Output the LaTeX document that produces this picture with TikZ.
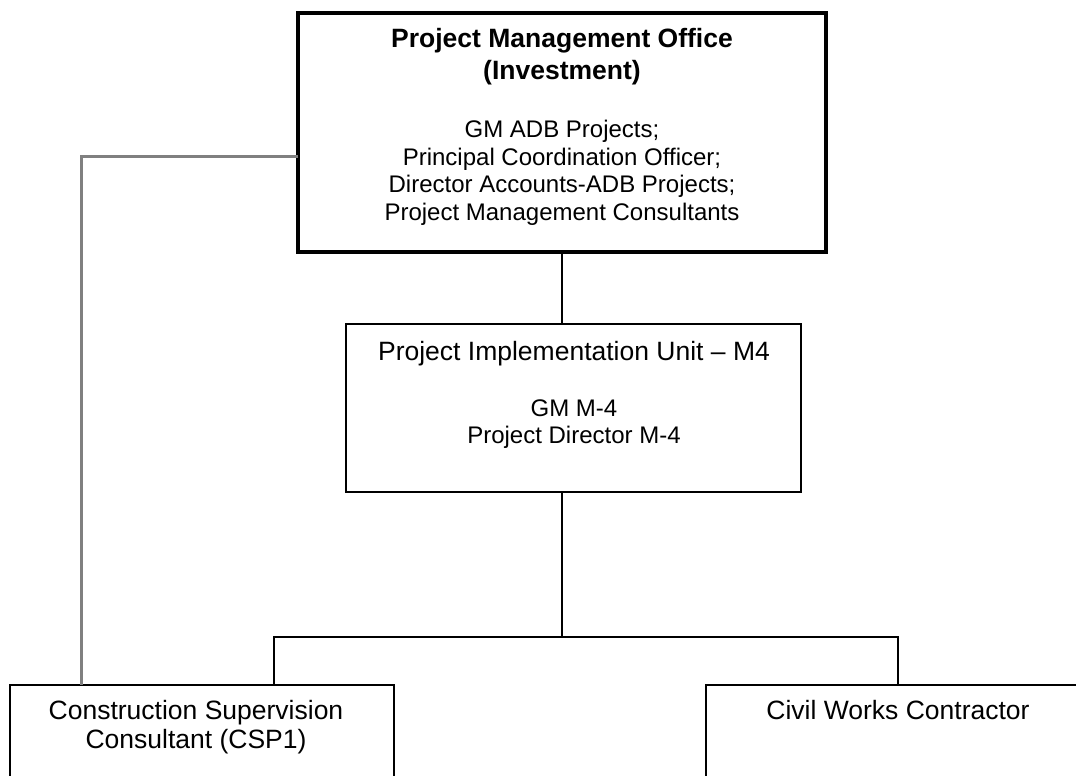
\documentclass[tikz,border=0pt]{standalone}
\usepackage{fontspec}
\setmainfont{Liberation Sans}
\definecolor{lgray}{RGB}{128,128,128}
\begin{document}
\begin{tikzpicture}[x=1pt,y=-1pt,
  box/.style={draw=black, line width=2pt, rectangle, inner sep=0pt, outer sep=0pt},
  thickbox/.style={box, line width=4pt},
  link/.style={draw=black, line width=2pt},
  glink/.style={draw=lgray, line width=3pt},
  head/.style={font=\fontsize{26.5}{30}\selectfont, inner sep=0pt, anchor=base},
  headb/.style={font=\fontsize{26.5}{30}\selectfont\bfseries, inner sep=0pt, anchor=base},
  sub/.style={font=\fontsize{24}{28}\selectfont, inner sep=0pt, anchor=base},
]
\useasboundingbox (0,0) rectangle (1076,776);
\clip (0,0) rectangle (1076,776);
\fill[white] (0,0) rectangle (1076,776);

% boxes
\node[thickbox, minimum width=528pt, minimum height=239pt] (pmo) at (562,132.5) {};
\node[box, minimum width=455pt, minimum height=168pt] (piu) at (573.5,408) {};
\node[box, minimum width=384pt, minimum height=115pt] (csc) at (202,742.5) {};
\node[box, minimum width=384pt, minimum height=115pt] (cwc) at (898,742.5) {};

% texts
\node[headb] (pmo1) at (562,48) {Project Management Office};
\node[headb] (pmo2) at (562,79.5) {(Investment)};
\node[sub] (pmo3) at (562,137) {GM ADB Projects;};
\node[sub] (pmo4) at (562,165) {Principal Coordination Officer;};
\node[sub] (pmo5) at (562,192.5) {Director Accounts-ADB Projects;};
\node[sub] (pmo6) at (562,220) {Project Management Consultants};

\node[head] (piu1) at (574,360) {Project Implementation Unit – M4};
\node[sub] (piu2) at (574,416) {GM M-4};
\node[sub] (piu3) at (574,443) {Project Director M-4};

\node[head] (csc1) at (196,719.5) {Construction Supervision};
\node[head] (csc2) at (196,748) {Consultant (CSP1)};

\node[head] (cwc1) at (898,719) {Civil Works Contractor};

% connectors
\coordinate (j) at (562,637);
\coordinate (jl) at (274,637);
\coordinate (jr) at (898,637);
\coordinate (gc) at (81,156);

\draw[link] (pmo.south) -- (pmo.south |- piu.north);
\draw[link] (pmo.south |- piu.south) -- (j);
\draw[link, line join=miter] (jl |- csc.north) -- (jl) -- (jr) -- (cwc.north);
\draw[glink, line join=miter] (pmo.west |- gc) -- (gc) -- (gc |- csc.north);
\end{tikzpicture}
\end{document}
